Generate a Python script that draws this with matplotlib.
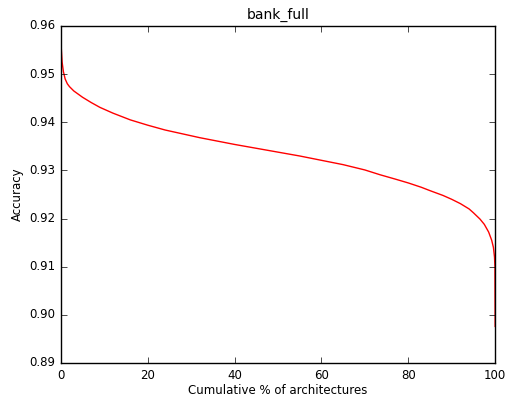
import matplotlib
matplotlib.use("Agg")
import matplotlib.pyplot as plt

pct = [0, 0.1, 0.3, 0.6, 1, 1.5, 2, 3, 5, 7, 9, 12, 16, 20, 24, 28, 32, 36, 40, 45,
       50, 55, 60, 65, 70, 73.5, 77, 80, 83, 85, 88, 90, 92, 94, 95, 96.5, 97.5, 98.5,
       99.2, 99.6, 99.85, 99.95, 100]
acc = [0.960, 0.9555, 0.9525, 0.9505, 0.9490, 0.9480, 0.9474, 0.9465, 0.9452, 0.9441,
       0.9431, 0.9419, 0.9405, 0.9394, 0.9384, 0.9376, 0.9368, 0.9361, 0.9354, 0.9346,
       0.9338, 0.9330, 0.9321, 0.9312, 0.9301, 0.9291, 0.9282, 0.9274, 0.9265, 0.9258,
       0.9248, 0.9240, 0.9231, 0.9220, 0.9212, 0.9199, 0.9188, 0.9172, 0.9155, 0.9140,
       0.9120, 0.9100, 0.8976]

plt.style.use('classic')
fig = plt.figure(figsize=(5.11, 4.0), dpi=100, facecolor='white')
ax = fig.add_axes([0.119, 0.0925, 0.850, 0.8425])
ax.plot(pct, acc, color='red', linewidth=1.0)
ax.set_xlim(0, 100)
ax.set_ylim(0.89, 0.96)
ax.set_xticks([0, 20, 40, 60, 80, 100])
ax.set_yticks([0.89, 0.90, 0.91, 0.92, 0.93, 0.94, 0.95, 0.96])
ax.set_yticklabels(['0.89', '0.90', '0.91', '0.92', '0.93', '0.94', '0.95', '0.96'])
ax.tick_params(labelsize=8.5)
ax.set_xlabel('Cumulative % of architectures', fontsize=8.5, labelpad=2)
ax.set_ylabel('Accuracy', fontsize=8.5, labelpad=4)
ax.set_title('bank_full', fontsize=10)
fig.savefig('out.png', dpi=100, facecolor='white')
